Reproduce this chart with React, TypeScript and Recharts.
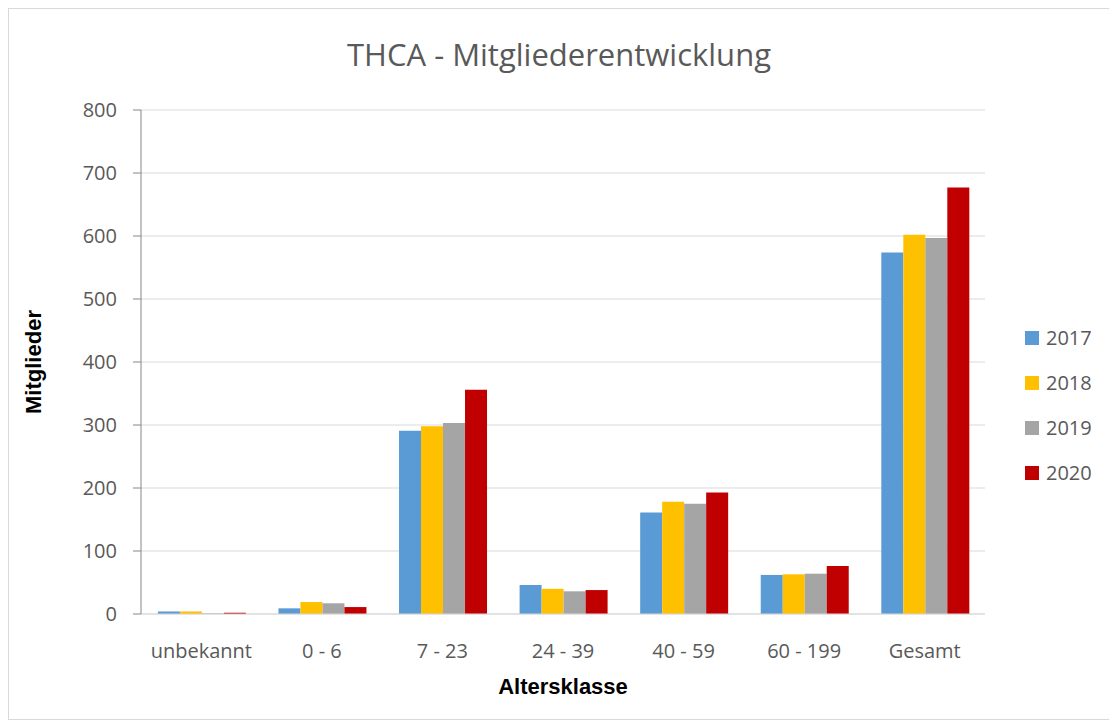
import React from 'react';
import { BarChart, Bar, XAxis, YAxis, CartesianGrid, Label } from 'recharts';

const categories = ['unbekannt', '0 - 6', '7 - 23', '24 - 39', '40 - 59', '60 - 199', 'Gesamt'];
const values2017 = [4, 9, 291, 46, 161, 62, 574];
const values2018 = [4, 19, 298, 40, 178, 63, 602];
const values2019 = [1, 17, 303, 36, 175, 64, 597];
const values2020 = [2, 11, 356, 38, 193, 76, 677];
const yTicks = [0, 100, 200, 300, 400, 500, 600, 700, 800];

const seriesList = [
  { key: '2017', color: '#5b9bd5' },
  { key: '2018', color: '#ffc000' },
  { key: '2019', color: '#a5a5a5' },
  { key: '2020', color: '#c00000' },
];

const data = categories.map((c, i) => ({
  name: c,
  '2017': values2017[i],
  '2018': values2018[i],
  '2019': values2019[i],
  '2020': values2020[i],
}));

const font = '"Open Sans", sans-serif';
const boldFont = '"Liberation Sans", Arial, sans-serif';
const textColor = '#595959';

// legend as a plain vertical list, like the Excel one
const LegendList = () => (
  <div style={{ position: 'absolute', left: 1016, top: 306, fontFamily: font }}>
    {seriesList.map(s => (
      <div key={s.key} style={{ display: 'flex', alignItems: 'center', height: 45 }}>
        <span style={{ width: 14, height: 14, background: s.color, marginRight: 7 }} />
        <span style={{ fontSize: 20, color: textColor }}>{s.key}</span>
      </div>
    ))}
  </div>
);

const App: React.FC = () => {
  return (
    <div style={{ width: 1100, height: 710, border: '1px solid #d9d9d9', position: 'relative', background: '#fff' }}>
      <div
        style={{
          position: 'absolute',
          top: 24,
          left: 0,
          width: '100%',
          textAlign: 'center',
          fontFamily: font,
          fontSize: 31,
          color: textColor,
        }}
      >
        THCA - Mitgliederentwicklung
      </div>
      <BarChart
        width={1100}
        height={710}
        data={data}
        margin={{ top: 101, right: 124, left: 72, bottom: 65 }}
        barCategoryGap="14%"
        barGap={0}
      >
        <CartesianGrid vertical={false} stroke="#d9d9d9" />
        <XAxis
          dataKey="name"
          height={40}
          tickLine={false}
          axisLine={{ stroke: '#d9d9d9' }}
          tickMargin={24}
          tick={{ fontSize: 20, fill: textColor, fontFamily: font }}
        >
          <Label
            value="Altersklasse"
            position="insideBottom"
            offset={-40}
            style={{ fontSize: 22, fontWeight: 'bold', fill: '#000', fontFamily: boldFont }}
          />
        </XAxis>
        <YAxis
          width={60}
          domain={[0, 800]}
          ticks={yTicks}
          interval={0}
          tickSize={8}
          tickMargin={16}
          axisLine={{ stroke: '#868686' }}
          tickLine={{ stroke: '#868686' }}
          tick={{ fontSize: 20, fill: textColor, fontFamily: font }}
        >
          <Label
            value="Mitglieder"
            angle={-90}
            position="insideLeft"
            offset={-48}
            style={{ fontSize: 22, fontWeight: 'bold', fill: '#000', fontFamily: boldFont, textAnchor: 'middle' }}
          />
        </YAxis>
        {seriesList.map(s => (
          <Bar key={s.key} dataKey={s.key} fill={s.color} isAnimationActive={false} />
        ))}
      </BarChart>
      <LegendList />
    </div>
  );
};

export default App;
